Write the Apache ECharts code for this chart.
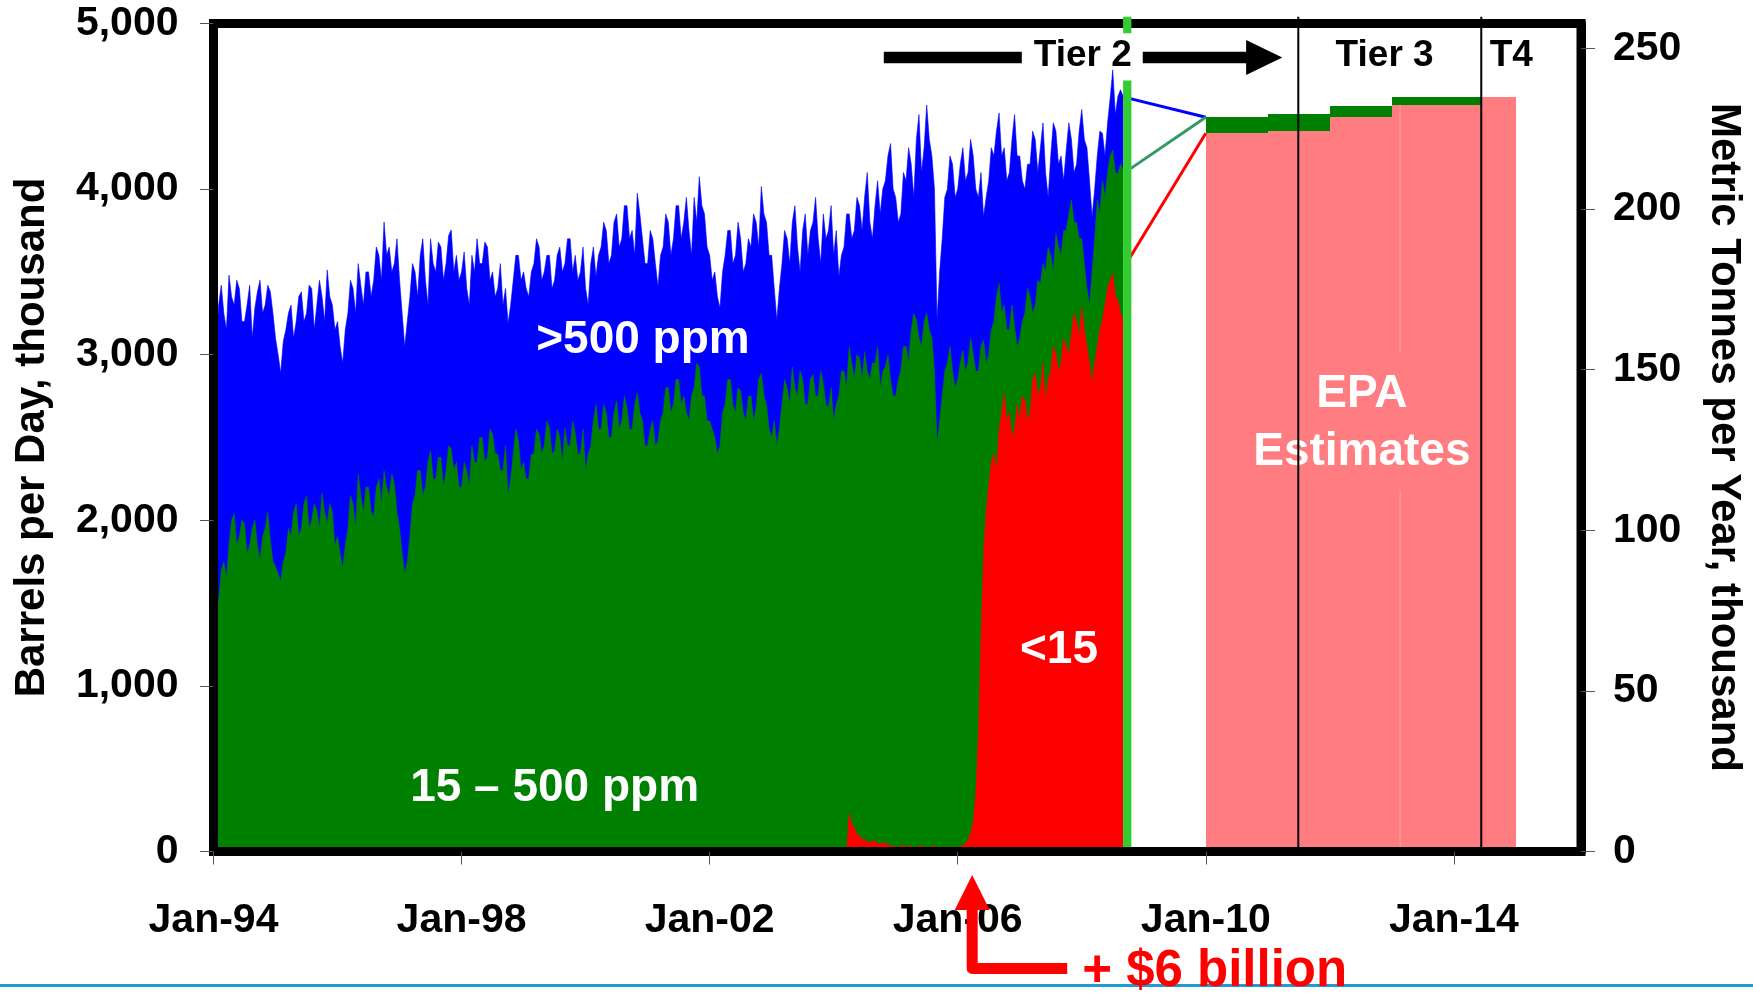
<!DOCTYPE html>
<html>
<head>
<meta charset="utf-8">
<script src="https://cdn.jsdelivr.net/npm/echarts@6/dist/echarts.min.js"></script>
<style>
  html, body { margin: 0; padding: 0; background: #ffffff; }
  #chart { width: 1753px; height: 995px; }
</style>
</head>
<body>
<div id="chart"></div>
<script>
// Distillate production by sulfur content, twice a month, Jan-1994 .. Sep-2008.
// Points are half a month apart; x is counted in months from Jan-1994.
// Values are thousand barrels per day.
const stepMonths = 0.5;
const xTickMonths = [0, 48, 96, 144, 192, 240];
const xTickLabels = ['Jan-94', 'Jan-98', 'Jan-02', 'Jan-06', 'Jan-10', 'Jan-14'];
const leftTicks = [0, 1000, 2000, 3000, 4000, 5000];
const rightTicks = [0, 50, 100, 150, 200, 250];

// All distillate (top of the >500 ppm band), one row per year
const totalAll = [
  3110, 3050, 3300, 3420, 3250, 3150, 3480, 3350, 3300, 3450, 3400, 3200, 3200, 3300, 3420, 3100, 3280, 3380, 3450, 3250, 3300, 3420, 3380, 3250,
  3100, 3000, 2890, 3080, 3150, 3250, 3300, 3100, 3200, 3350, 3380, 3200, 3250, 3420, 3400, 3150, 3300, 3450, 3350, 3200, 3512, 3350, 3300, 3150,
  3200, 3050, 2950, 3150, 3250, 3450, 3400, 3250, 3550, 3420, 3300, 3500, 3500, 3350, 3450, 3650, 3600, 3450, 3802, 3600, 3650, 3500, 3550, 3700,
  3450, 3250, 3048, 3200, 3350, 3550, 3500, 3350, 3600, 3700, 3450, 3300, 3700, 3550, 3500, 3680, 3650, 3450, 3550, 3720, 3753, 3500, 3600, 3450,
  3500, 3620, 3400, 3300, 3600, 3500, 3700, 3550, 3550, 3680, 3650, 3450, 3500, 3350, 3400, 3550, 3300, 3400, 3190, 3300, 3450, 3600, 3600, 3450,
  3500, 3400, 3350, 3500, 3550, 3700, 3650, 3450, 3500, 3600, 3600, 3400, 3450, 3600, 3650, 3500, 3550, 3700, 3700, 3500, 3600, 3450, 3500, 3650,
  3400, 3300, 3550, 3650, 3470, 3600, 3650, 3800, 3750, 3550, 3600, 3800, 3850, 3650, 3700, 3900, 3900, 3700, 3750, 3600, 3975, 3850, 3700, 3550,
  3550, 3750, 3700, 3550, 3410, 3600, 3650, 3850, 3800, 3600, 3700, 3900, 3900, 3700, 3800, 3950, 3750, 3600, 3950, 3800, 4075, 3900, 3850, 3650,
  3600, 3450, 3500, 3350, 3280, 3500, 3600, 3750, 3750, 3550, 3600, 3800, 3700, 3500, 3550, 3700, 3650, 3850, 3800, 3650, 4015, 3850, 3800, 3600,
  3600, 3400, 3210, 3400, 3550, 3750, 3700, 3550, 3800, 3900, 3650, 3500, 3750, 3850, 3600, 3750, 3800, 3950, 3700, 3550, 3850, 3700, 3750, 3900,
  3600, 3750, 3470, 3600, 3650, 3850, 3850, 3700, 3750, 3950, 3900, 3750, 3955, 4100, 3800, 3700, 3900, 4050, 3850, 4000, 4050, 4200, 4275, 4000,
  3950, 3800, 3850, 4100, 4050, 4250, 4150, 3950, 4300, 4450, 4100, 4250, 4508, 4300, 4200, 4000, 3210, 3500, 3700, 3950, 4000, 4200, 4150, 3950,
  4000, 4150, 4250, 4050, 4100, 4300, 4200, 4000, 3950, 4100, 3833, 3950, 4050, 4250, 4200, 4350, 4460, 4200, 4250, 4050, 4100, 4300, 4450, 4200,
  4200, 4050, 4000, 4150, 4150, 4350, 4300, 4100, 4250, 4400, 4100, 3950, 4200, 4400, 4350, 4150, 4200, 4050, 4236, 4400, 4300, 4100, 4150, 4350,
  4480, 4300, 4250, 4050, 3833, 4000, 4200, 4350, 4337, 4200, 4400, 4550, 4720, 4450, 4560, 4600, 4560
];

// Distillate at or below 500 ppm (top of the 15 - 500 ppm band)
const atOrBelow500 = [
  1440, 1480, 1520, 1700, 1750, 1650, 1850, 2000, 2040, 1850, 1900, 2000, 1980, 1800, 1850, 1950, 2000, 1850, 1760, 1900, 1950, 2050, 1880, 1750,
  1720, 1680, 1630, 1750, 1800, 1950, 1900, 2050, 2100, 1900, 1950, 2100, 2150, 1950, 2000, 2100, 2060, 1950, 2164, 2050, 1980, 2100, 2050, 1850,
  1900, 1800, 1710, 1850, 1950, 2150, 2100, 1950, 2280, 2150, 2050, 2200, 2200, 2050, 2020, 2200, 2250, 2100, 2300, 2200, 2150, 2280, 2220, 2050,
  1950, 1800, 1680, 1750, 1900, 2100, 2150, 2300, 2300, 2150, 2200, 2350, 2420, 2250, 2250, 2380, 2380, 2200, 2300, 2450, 2430, 2300, 2350, 2200,
  2200, 2350, 2300, 2200, 2450, 2350, 2350, 2500, 2500, 2350, 2380, 2550, 2520, 2400, 2400, 2300, 2300, 2450, 2150, 2250, 2400, 2550, 2480, 2300,
  2350, 2250, 2250, 2400, 2400, 2550, 2520, 2400, 2450, 2600, 2560, 2400, 2420, 2550, 2500, 2350, 2557, 2450, 2450, 2600, 2520, 2400, 2400, 2550,
  2300, 2400, 2450, 2600, 2700, 2550, 2550, 2700, 2650, 2500, 2500, 2650, 2720, 2550, 2600, 2750, 2680, 2550, 2550, 2700, 2770, 2650, 2600, 2450,
  2450, 2550, 2600, 2450, 2480, 2600, 2650, 2800, 2800, 2650, 2700, 2850, 2850, 2700, 2750, 2650, 2600, 2750, 2800, 2950, 2925, 2750, 2750, 2600,
  2600, 2550, 2500, 2400, 2450, 2650, 2700, 2850, 2850, 2700, 2650, 2800, 2780, 2650, 2600, 2750, 2750, 2600, 2680, 2850, 2886, 2750, 2700, 2550,
  2500, 2600, 2450, 2550, 2700, 2850, 2800, 2700, 2926, 2800, 2750, 2900, 2850, 2700, 2700, 2850, 2880, 2750, 2750, 2900, 2825, 2700, 2680, 2800,
  2600, 2700, 2750, 2900, 2900, 2800, 3047, 2950, 2850, 3000, 2980, 2850, 3020, 2900, 2850, 2950, 2950, 3050, 2800, 2900, 2926, 3000, 2850, 2750,
  2750, 2850, 2900, 3050, 3050, 2950, 3150, 3250, 3210, 3100, 3050, 3200, 3250, 3150, 3100, 2900, 2464, 2600, 2750, 2900, 2950, 3050, 2900, 2800,
  2850, 2950, 3027, 2900, 2950, 3100, 3000, 2900, 2900, 3050, 3088, 2950, 3000, 3150, 3200, 3350, 3430, 3250, 3300, 3150, 3150, 3300, 3170, 3050,
  3100, 3200, 3250, 3400, 3350, 3250, 3300, 3450, 3430, 3550, 3500, 3650, 3600, 3500, 3732, 3650, 3600, 3750, 3750, 3850, 3934, 3800, 3800, 3700,
  3700, 3550, 3400, 3300, 3500, 3700, 3934, 3850, 4050, 3950, 4100, 4200, 4236, 4100, 4094, 4150, 4120
];

// Ultra-low sulfur (<15 ppm), starting at month 122 (Mar-2004)
const below15StartMonth = 122;
const below15 = [
  0, 0, 229, 170, 140, 110, 90, 75, 70, 60, 55, 65, 60, 45, 45, 55, 50, 40, 35, 30,
  30, 20, 40, 30, 25, 35, 30, 20, 20, 30, 35, 25, 25, 20, 30, 35, 15, 10, 25, 30, 20, 15, 30, 25,
  25, 30, 35, 50, 70, 110, 180, 350, 700, 1300, 1800, 2050, 2210, 2350, 2400, 2300, 2545, 2650, 2768, 2600, 2650, 2500, 2545, 2700,
  2600, 2750, 2726, 2600, 2650, 2850, 2887, 2750, 2800, 2950, 2726, 2850, 2900, 3050, 3007, 2900, 2950, 3100, 3050, 3000, 3128, 3250, 3200, 3100,
  3290, 3150, 3050, 2950, 2826, 2950, 3050, 3150, 3209, 3300, 3400, 3450, 3490, 3350, 3330, 3250, 3209
];

// EPA estimates: blocks (start/end month), <15 ppm level and total level
const epaStart = [192, 204, 216, 228, 245.3];
const epaEnd = [204, 216, 228, 245.3, 252];
const epaBelow15 = [4337, 4351, 4434, 4506, 4554];
const epaTotal = [4434, 4454, 4504, 4554, 4554];

// Links from the last reported month to the first EPA estimate
const linkTotalStart = [175.6, 4560];
const link500Start = [176.8, 4110];
const link15Start = [176.8, 3560];

// Regulatory markers (months from Jan-1994)
const tier2End = 176.8;
const tier3Start = 209.9;
const tier4Start = 245.3;
const ulsdRuleMonth = 146.8;

const FONT = '"Liberation Sans", Arial, Helvetica, sans-serif';
const toPairs = (vals, offsetMonths) => vals.map((v, i) => [offsetMonths + i * stepMonths, v]);

function areaSeries(name, data, color) {
  return {
    type: 'line', name, data, z: 2,
    symbol: 'none', silent: true,
    lineStyle: { color, width: 0.6 },
    areaStyle: { color, opacity: 1, origin: 'start' }
  };
}

function linkSeries(from, to, color) {
  return {
    type: 'line', data: [from, to], z: 4,
    symbol: 'none', silent: true, clip: false,
    lineStyle: { color, width: 3 }
  };
}

const option = {
  animation: false,
  backgroundColor: '#ffffff',
  grid: {
    left: 213.5, right: 167, top: 23.5, bottom: 143.5,
    containLabel: false,
    show: true, borderColor: '#000000', borderWidth: 9, backgroundColor: 'transparent'
  },
  xAxis: {
    type: 'value', min: 0, max: 264.6, z: 10,
    axisLine: { show: true, lineStyle: { color: '#000000', width: 9 } },
    axisTick: { show: true, length: 13, lineStyle: { color: '#555555', width: 1 }, customValues: xTickMonths },
    axisLabel: {
      customValues: xTickMonths, margin: 49,
      fontFamily: FONT, fontWeight: 'bold', fontSize: 41, color: '#000000',
      formatter: v => { const i = xTickMonths.indexOf(Math.round(v)); return i >= 0 ? xTickLabels[i] : ''; }
    },
    splitLine: { show: false }
  },
  yAxis: [
    {
      type: 'value', min: 0, max: 5000, interval: 1000, position: 'left', z: 10,
      name: 'Barrels per Day, thousand', nameLocation: 'middle', nameGap: 160, nameRotate: 90,
      nameTextStyle: { fontFamily: FONT, fontWeight: 'bold', fontSize: 42, color: '#000000' },
      axisLine: { show: true, lineStyle: { color: '#000000', width: 9 } },
      axisTick: { show: true, length: 13.5, lineStyle: { color: '#555555', width: 1 }, customValues: leftTicks },
      axisLabel: {
        customValues: leftTicks, margin: 35,
        fontFamily: FONT, fontWeight: 'bold', fontSize: 41, color: '#000000',
        formatter: v => v.toLocaleString('en-US')
      },
      splitLine: { show: false }
    },
    {
      type: 'value', min: 0, max: 257.7, position: 'right', z: 10,
      name: 'Metric Tonnes per Year, thousand', nameLocation: 'middle', nameGap: 122, nameRotate: -90,
      nameTextStyle: { fontFamily: FONT, fontWeight: 'bold', fontSize: 42, color: '#000000' },
      axisLine: { show: true, lineStyle: { color: '#000000', width: 9 } },
      axisTick: { show: true, length: 14, lineStyle: { color: '#555555', width: 1 }, customValues: rightTicks },
      axisLabel: {
        customValues: rightTicks, margin: 32,
        fontFamily: FONT, fontWeight: 'bold', fontSize: 41, color: '#000000'
      },
      splitLine: { show: false }
    }
  ],
  series: [
    areaSeries('>500 ppm', toPairs(totalAll, 0), '#0000FF'),
    areaSeries('15 - 500 ppm', toPairs(atOrBelow500, 0), '#008000'),
    areaSeries('<15 ppm', toPairs(below15, below15StartMonth), '#FF0000'),
    {
      type: 'custom', name: 'EPA estimates', z: 2, silent: true,
      data: epaStart.map((s, i) => [s, epaEnd[i], epaBelow15[i], epaTotal[i]]),
      encode: { x: [0, 1], y: [2, 3] },
      renderItem(params, api) {
        const x0 = api.value(0), x1 = api.value(1), lo = api.value(2), hi = api.value(3);
        const a = api.coord([x0, 0]), b = api.coord([x1, lo]), c = api.coord([x1, hi]);
        // snap to whole pixels so neighbouring blocks join without seams
        const L = Math.round(a[0]), R = Math.round(b[0]);
        const yBase = Math.round(a[1]), yLo = Math.round(b[1]), yHi = Math.round(c[1]);
        const children = [{
          type: 'rect',
          shape: { x: L, y: yLo, width: R - L, height: yBase - yLo },
          style: { fill: '#FF7C80' }
        }];
        if (yLo > yHi) {
          children.push({
            type: 'rect',
            shape: { x: L, y: yHi, width: R - L, height: yLo - yHi },
            style: { fill: '#008000' }
          });
        }
        return { type: 'group', children };
      }
    },
    linkSeries(linkTotalStart, [epaStart[0], epaTotal[0]], '#0000FF'),
    linkSeries(link500Start, [epaStart[0], epaTotal[0]], '#339966'),
    linkSeries(link15Start, [epaStart[0], epaBelow15[0]], '#FF0000'),
    {
      // tier markers, arrow and in-plot labels
      type: 'custom', z: 6, silent: true, clip: false,
      data: [[0, 0]],
      renderItem(params, api) {
        const P = (m, v) => api.coord([m, v]);
        const top = 5041;
        const kids = [];
        const vline = (m, v0, v1, color, w) => {
          const p0 = P(m, v0), p1 = P(m, v1);
          kids.push({ type: 'line', shape: { x1: p0[0], y1: p0[1], x2: p1[0], y2: p1[1] }, style: { stroke: color, lineWidth: w } });
        };
        const text = (m, v, str, size, color) => {
          const p = P(m, v);
          kids.push({
            type: 'text', x: p[0], y: p[1],
            style: { text: str, fill: color, font: 'bold ' + size + 'px ' + FONT, align: 'center', verticalAlign: 'middle' }
          });
        };
        // faint seam inside the EPA block
        vline(229.6, 0, 2183, '#FFA3A6', 1);
        vline(229.6, 3010, epaBelow15[3], '#FFA3A6', 1);
        // in-plot labels
        text(83.1, 3089, '>500 ppm', 46, '#FFFFFF');
        text(66.0, 380, '15 \u2013 500 ppm', 46, '#FFFFFF');
        text(163.6, 1216, '<15', 46, '#FFFFFF');
        text(222.2, 2760, 'EPA', 46, '#FFFFFF');
        text(222.2, 2410, 'Estimates', 46, '#FFFFFF');
        // end of Tier 2 reporting (green marker, broken around the label)
        vline(tier2End, top, 4941, '#33CC33', 8.3);
        vline(tier2End, 4656, 0, '#33CC33', 8.3);
        // Tier 3 / Tier 4 boundaries
        vline(tier3Start, top, 0, '#000000', 2);
        vline(tier4Start, top, 0, '#000000', 2);
        // Tier 2 arrow
        const lvl = 4795;
        const l0 = P(129.7, lvl), l1 = P(156.4, lvl), r0 = P(179.8, lvl), r1 = P(199.8, lvl), tip = P(206.8, lvl);
        kids.push({ type: 'line', shape: { x1: l0[0], y1: l0[1], x2: l1[0], y2: l1[1] }, style: { stroke: '#000000', lineWidth: 11.6 } });
        kids.push({ type: 'line', shape: { x1: r0[0], y1: r0[1], x2: r1[0] + 1, y2: r1[1] }, style: { stroke: '#000000', lineWidth: 11.6 } });
        kids.push({ type: 'polygon', shape: { points: [[r1[0], r1[1] - 17.5], [tip[0], tip[1]], [r1[0], r1[1] + 17.5]] }, style: { fill: '#000000' } });
        text(168.2, 4804, 'Tier 2', 37, '#000000');
        text(226.6, 4804, 'Tier 3', 37, '#000000');
        text(251.1, 4804, 'T4', 37, '#000000');
        return { type: 'group', children: kids };
      }
    }
  ]
};

const chart = echarts.init(document.getElementById('chart'), null, { renderer: 'canvas' });
chart.setOption(option);

// Cost call-out under the axis, pointing at the start of the <15 ppm rule
const ax = chart.convertToPixel({ xAxisIndex: 0 }, ulsdRuleMonth);
chart.setOption({
  graphic: [
    { type: 'line', z: 20, shape: { x1: 0, y1: 985.5, x2: 1753, y2: 985.5 }, style: { stroke: '#1E9AD6', lineWidth: 3 } },
    { type: 'polygon', z: 21, shape: { points: [[ax, 875], [ax - 17.5, 910], [ax + 17.5, 910]] }, style: { fill: '#FF0000' } },
    { type: 'polyline', z: 21, shape: { points: [[ax, 908], [ax, 968.4], [ax + 95, 968.4]] }, style: { stroke: '#FF0000', lineWidth: 11, lineJoin: 'round', fill: null } },
    { type: 'text', z: 22, x: ax + 110, y: 972, style: { text: '+ $6 billion', fill: '#FF0000', font: 'bold 51px ' + FONT, align: 'left', verticalAlign: 'middle' } }
  ]
});
</script>
</body>
</html>
